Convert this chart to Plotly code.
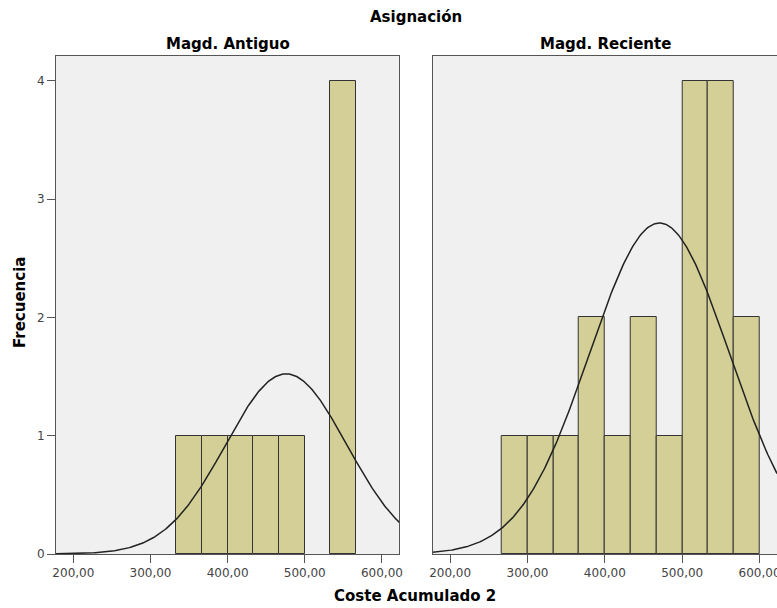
import numpy as np
import plotly.graph_objects as go

# Histogram data: bin edges (lower bound), counts per group
bin_width = 100 / 3
antiguo_bin_start = [333.33, 366.67, 400.00, 433.33, 466.67, 533.33]
antiguo_counts = [1, 1, 1, 1, 1, 4]
reciente_bin_start = [266.67, 300.00, 333.33, 366.67, 400.00, 433.33,
                      466.67, 500.00, 533.33, 566.67]
reciente_counts = [1, 1, 1, 2, 1, 2, 1, 4, 4, 2]

# Normal curve parameters (mean, standard deviation) per group
antiguo_mean, antiguo_sd = 475.9, 78.6
reciente_mean, reciente_sd = 470.6, 90.3

x_tick_vals = [200, 300, 400, 500, 600]
x_tick_labels = ["200,00", "300,00", "400,00", "500,00", "600,00"]
y_tick_vals = [0, 1, 2, 3, 4]

x_range = [177.5, 622.5]
y_range = [0, 4.21]

bar_fill = "#d3cf97"
bar_edge = "#333333"
frame = "#555555"

W, H = 777, 608
ML, MR, MT, MB = 56, 0, 56, 54
PW, PH = W - ML - MR, H - MT - MB

fig = go.Figure()


def add_panel(starts, counts, mean, sd, xref, yref):
    n = sum(counts)
    centers = [s + bin_width / 2 for s in starts]
    fig.add_trace(go.Bar(
        x=centers, y=counts, width=[bin_width] * len(centers),
        marker=dict(color=bar_fill, line=dict(color=bar_edge, width=1)),
        xaxis=xref, yaxis=yref, showlegend=False, hoverinfo="x+y",
    ))
    xs = np.linspace(x_range[0], x_range[1], 300)
    ys = n * bin_width / (sd * np.sqrt(2 * np.pi)) * np.exp(-0.5 * ((xs - mean) / sd) ** 2)
    fig.add_trace(go.Scatter(
        x=xs, y=ys, mode="lines", line=dict(color="#222222", width=1.5),
        xaxis=xref, yaxis=yref, showlegend=False, hoverinfo="skip",
    ))


add_panel(antiguo_bin_start, antiguo_counts, antiguo_mean, antiguo_sd, "x", "y")
add_panel(reciente_bin_start, reciente_counts, reciente_mean, reciente_sd, "x2", "y2")

base_family = "DejaVu Sans, Verdana, sans-serif"
tick_font = dict(family=base_family, size=12, color="#444444")
axis_common = dict(
    showline=True, linecolor=frame, linewidth=1, mirror=True,
    showgrid=False, zeroline=False, ticklen=8, automargin=False,
    tickcolor=frame, tickfont=tick_font, ticklabeloverflow="allow",
)

fig.update_layout(
    width=W, height=H,
    margin=dict(l=ML, r=MR, t=MT, b=MB, autoexpand=False),
    paper_bgcolor="white",
    plot_bgcolor="#f0f0f0",
    bargap=0,
    barmode="overlay",
    xaxis=dict(domain=[0, 0.4761], range=x_range, tickvals=x_tick_vals,
               ticktext=x_tick_labels, ticks="outside", **axis_common),
    xaxis2=dict(domain=[0.5225, 1.0], range=x_range, tickvals=x_tick_vals,
                ticktext=x_tick_labels, anchor="y2", ticks="outside", **axis_common),
    yaxis=dict(domain=[0, 1], range=y_range, tickvals=y_tick_vals,
               ticks="outside", **axis_common),
    yaxis2=dict(domain=[0, 1], range=y_range, tickvals=y_tick_vals, anchor="x2",
                showticklabels=False, ticks="", **axis_common),
    font=dict(family=base_family, color="black"),
)

title_font = dict(family=base_family, size=15, color="black")


def px_to_paper(px, py):
    return (px - ML) / PW, (H - MB - py) / PH


titles = [
    ("<b>Asignación</b>", 416, 17, 0),
    ("<b>Magd. Antiguo</b>", 228, 44, 0),
    ("<b>Magd. Reciente</b>", 605, 44, 0),
    ("<b>Coste Acumulado 2</b>", 415, 596, 0),
    ("<b>Frecuencia</b>", 20, 303, -90),
]
for text, px, py, ang in titles:
    x, y = px_to_paper(px, py)
    fig.add_annotation(text=text, x=x, y=y, xref="paper", yref="paper",
                       showarrow=False, font=title_font, textangle=ang,
                       xanchor="center", yanchor="middle")

fig.write_html("out.html")
